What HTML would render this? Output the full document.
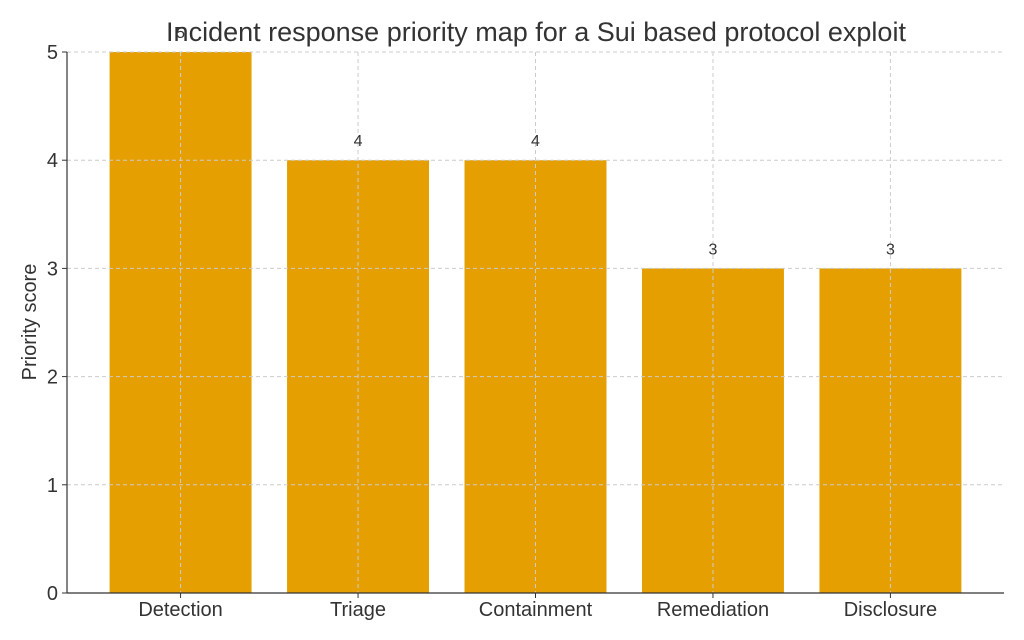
<!DOCTYPE html>
<html><head><meta charset="utf-8"><style>
body{margin:0;background:#fff;}
svg{display:block;font-family:"Liberation Sans","DejaVu Sans",sans-serif;}
</style></head><body>
<svg id="chart" width="1024" height="640" viewBox="0 0 1024 640">
<text x="536" y="41" text-anchor="middle" font-size="27" fill="#333">Incident response priority map for a Sui based protocol exploit</text>
<text transform="translate(36,322) rotate(-90)" text-anchor="middle" font-size="20" fill="#333">Priority score</text>
<g id="grid"></g><g id="bars"></g><g id="labels"></g><g id="axes"></g>
</svg>
<script>
const categories=["Detection","Triage","Containment","Remediation","Disclosure"];
const values=[5,4,4,3,3];
const yTicks=[0,1,2,3,4,5];
const NS="http://www.w3.org/2000/svg";
const L=67,R=1004,T=52,B=593,yMax=5,xMin=-0.64,xMax=4.64;
const y=v=>B-(v/yMax)*(B-T);
const x=i=>L+(i-xMin)/(xMax-xMin)*(R-L);
const bw=0.8*(R-L)/(xMax-xMin);
function mk(tag,attrs,parent,text){const e=document.createElementNS(NS,tag);for(const k in attrs)e.setAttribute(k,attrs[k]);if(text!==undefined)e.textContent=text;document.getElementById(parent).appendChild(e);return e;}
values.forEach((v,i)=>{
 const b=mk("rect",{x:x(i)-bw/2,y:y(v),width:bw,height:B-y(v),fill:"#E69F00"},"bars");
 
 
 const t=mk("text",{x:x(i),y:y(v)-14,"text-anchor":"middle","font-size":"16",fill:"#333"},"labels",String(v));
 
 
 const g=mk("line",{x1:x(i),x2:x(i),y1:T,y2:B,stroke:"#ccc","stroke-width":"1","stroke-dasharray":"4,3"},"grid");
 
 
 const tk=mk("line",{x1:x(i),x2:x(i),y1:B,y2:B+5,stroke:"#333"},"axes");
 
 
 const tl=mk("text",{x:x(i),y:B+23,"text-anchor":"middle","font-size":"20",fill:"#333"},"axes",categories[i]);
 
 
});
yTicks.forEach(v=>{
 const g=mk("line",{x1:L,x2:R,y1:y(v),y2:y(v),stroke:"#ccc","stroke-width":"1","stroke-dasharray":"4,3"},"grid");
 
 
 const tk=mk("line",{x1:L-5,x2:L,y1:y(v),y2:y(v),stroke:"#333"},"axes");
 
 
 const tl=mk("text",{x:L-9,y:y(v)+7,"text-anchor":"end","font-size":"20",fill:"#333"},"axes",String(v));
 
 
});
// move grid above bars like reference
document.getElementById("chart").appendChild(document.getElementById("grid"));
document.getElementById("chart").appendChild(document.getElementById("labels"));
const ax1=mk("line",{x1:L,x2:L,y1:T,y2:B,stroke:"#333","stroke-width":"1.2"},"axes");


const ax2=mk("line",{x1:L,x2:R,y1:B,y2:B,stroke:"#333","stroke-width":"1.2"},"axes");


document.getElementById("chart").appendChild(document.getElementById("axes"));
</script>
</body></html>
